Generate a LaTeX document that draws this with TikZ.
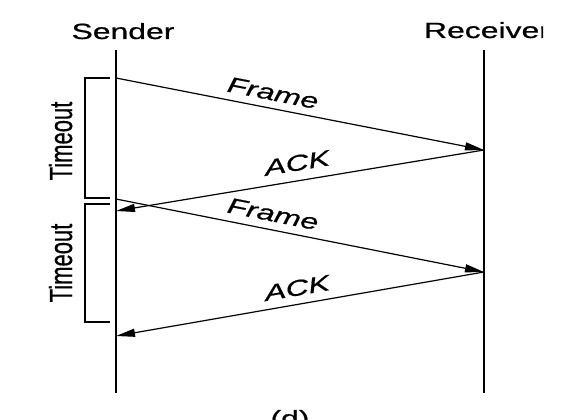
\documentclass[tikz,border=0pt]{standalone}
\usepackage{fontspec}
\usepackage{graphicx}
\setmainfont{Liberation Sans}
\newfontfamily\widefont[FakeStretch=1.45,FakeBold=0.7]{Liberation Sans}
\newfontfamily\tofont[FakeBold=0.7]{Liberation Sans}
\usetikzlibrary{arrows.meta}
\tikzset{
  lifeline/.style={line width=1.3pt},
  msg/.style={line width=1.2pt,-{Triangle[length=19pt,width=8pt]}},
  bracket/.style={line width=1.2pt},
  lbl/.style={inner sep=0pt,font=\fontsize{22}{26}\widefont},
  msglbl/.style={inner sep=0pt,font=\fontsize{22}{26}\widefont\itshape},
  tolbl/.style={inner sep=0pt,font=\fontsize{22}{26}\tofont,anchor=base,xscale=1.45,rotate=90},
}
\begin{document}
\begin{tikzpicture}[x=1pt,y=-1pt]
\useasboundingbox (0,0) rectangle (582,420);
\clip (0,0) rectangle (582,420);
% lifelines
\coordinate (s0) at (116,50);
\coordinate (s1) at (116,393);
\coordinate (r0) at (484,50);
\coordinate (r1) at (484,393);
\draw[lifeline] (s0) -- (s1);
\draw[lifeline] (r0) -- (r1);
% titles
\node[lbl,anchor=base] (sender) at (123,39) {Sender};
\begin{scope}
\clip (0,0) rectangle (543,60);
\node[lbl,anchor=base] (receiver) at (487,38) {Receiver};
\end{scope}
% events
\coordinate (sf1) at (116,78);
\coordinate (ra1) at (484,150);
\coordinate (sa1) at (116,211);
\coordinate (sf2) at (116,199);
\coordinate (rf2) at (484,272);
\coordinate (sa2) at (116,336);
\draw[msg] (sf1) -- (ra1);
\draw[msg] (ra1) -- (sa1);
\draw[msg] (sf2) -- (rf2);
\draw[msg] (rf2) -- (sa2);
% message labels
\node[msglbl] (frame1) at (273,93) {\rotatebox{-11.1}{Frame}};
\node[msglbl] (ack1) at (297,163) {\rotatebox{9.4}{ACK}};
\node[msglbl] (frame2) at (273,214) {\rotatebox{-11.2}{Frame}};
\node[msglbl] (ack2) at (297,288) {\rotatebox{9.8}{ACK}};
% timeout brackets
\coordinate (b1a) at (110,78);
\coordinate (b1b) at (110,198);
\coordinate (b2a) at (110,204);
\coordinate (b2b) at (110,322);
\draw[bracket] (b1a) -- (85,78) -- (85,198) -- (b1b);
\draw[bracket] (b2a) -- (85,204) -- (85,322) -- (b2b);
\node[tolbl] (timeout1) at (72,141) {Timeout};
\node[tolbl] (timeout2) at (72,263) {Timeout};
% caption
\node[lbl,anchor=base] (cap) at (290,426) {(d)};
\end{tikzpicture}
\end{document}
